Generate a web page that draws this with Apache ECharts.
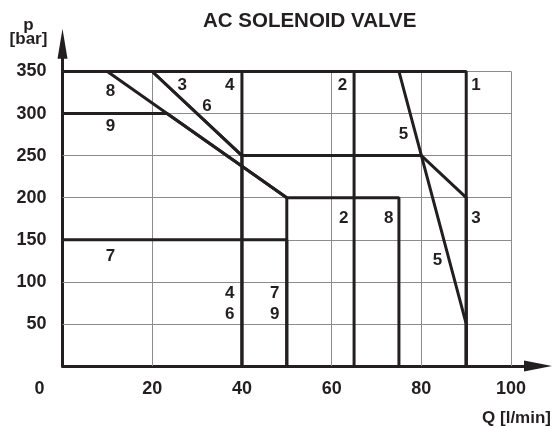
<!DOCTYPE html>
<html>
<head>
<meta charset="utf-8">
<script src="https://cdn.jsdelivr.net/npm/echarts@6/dist/echarts.min.js"></script>
<style>
  html, body { margin: 0; padding: 0; background: #fff; }
  #chart { width: 554px; height: 427px; }
</style>
</head>
<body>
<div id="chart"></div>
<script>
// grid ticks (Q in l/min, p in bar)
var xGrid = [20, 40, 60, 80, 100];
var yGrid = [50, 100, 150, 200, 250, 300, 350];

// operating limits, one polyline per curve number
var curve1 = [[0, 350], [90, 350], [90, 0]];
var curve2 = [[65, 350], [65, 0]];
var curve3 = [[20, 350], [40, 250], [80, 250], [90, 200], [90, 0]];
var curve4 = [[40, 350], [40, 0]];
var curve5 = [[75, 350], [90, 50], [90, 0]];
var curve6 = [[20, 350], [40, 250], [40, 0]];
var curve7 = [[0, 150], [50, 150], [50, 0]];
var curve8 = [[10, 350], [50, 200], [75, 200], [75, 0]];
var curve9 = [[0, 300], [23.3, 300], [50, 200], [50, 0]];

// curve number labels [Q, p, text]
var curveLabels = [
  [10.7, 326, '8'], [26.7, 334, '3'], [37.3, 333, '4'], [32.2, 309, '6'],
  [10.7, 285, '9'], [62.4, 333, '2'], [92.2, 333, '1'], [76, 275, '5'],
  [62.7, 175, '2'], [72.7, 175, '8'], [92.2, 175, '3'], [83.6, 126, '5'],
  [10.7, 130, '7'], [37.3, 86, '4'], [37.3, 61, '6'], [47.3, 86, '7'],
  [47.3, 61, '9']
];

var ink = '#231f20';
var font = 'Liberation Sans, Arial, sans-serif';

// grid segments for the markLine
var gridSegs = [];
xGrid.forEach(function (x) {
  gridSegs.push([{ coord: [x, 0] }, { coord: [x, 350] }]);
});
yGrid.forEach(function (y) {
  gridSegs.push([{ coord: [0, y] }, { coord: [100, y] }]);
});

var curves = [curve1, curve2, curve3, curve4, curve5, curve6, curve7, curve8, curve9];
var series = [{
  type: 'line',
  data: [],
  silent: true,
  markLine: {
    silent: true,
    z: 1,
    symbol: 'none',
    animation: false,
    label: { show: false },
    lineStyle: { color: '#8c8c8c', width: 1, type: 'solid' },
    data: gridSegs
  },
  z: 1
}];
curves.forEach(function (c, i) {
  series.push({
    name: 'curve' + (i + 1),
    type: 'line',
    data: c,
    showSymbol: false,
    symbol: 'none',
    lineStyle: { color: ink, width: 3 },
    z: 3
  });
});
series.push({
  type: 'scatter',
  data: curveLabels,
  symbolSize: 1,
  itemStyle: { color: 'rgba(0,0,0,0)', opacity: 1 },
  label: {
    show: true,
    position: 'inside',
    formatter: function (p) { return p.value[2]; },
    color: ink,
    opacity: 1,
    textBorderWidth: 0,
    fontFamily: font,
    fontSize: 17,
    fontWeight: 'bold'
  },
  z: 4
});

var chart = echarts.init(document.getElementById('chart'));
chart.setOption({
  animation: false,
  title: {
    text: 'AC SOLENOID VALVE',
    left: 198,
    top: 6,
    textStyle: { color: ink, fontFamily: font, fontSize: 20.5, fontWeight: 'bold' }
  },
  // 4.5 px per l/min, 295 px for 350 bar
  grid: { left: 62.5, right: 14.5, top: 43.7, bottom: 60.5 },
  xAxis: {
    type: 'value',
    min: 0,
    max: 106,
    interval: 20,
    name: 'Q [l/min]',
    nameLocation: 'end',
    nameGap: 13,
    nameTextStyle: {
      color: ink, fontFamily: font, fontSize: 17, fontWeight: 'bold',
      align: 'right', verticalAlign: 'top', padding: [44, 0, 0, 0]
    },
    axisLine: {
      lineStyle: { color: ink, width: 3 },
      symbol: ['none', 'triangle'],
      symbolSize: [11, 28]
    },
    axisTick: { show: false },
    splitLine: { show: false },
    axisLabel: {
      showMaxLabel: false,
      margin: 14,
      color: ink,
      fontFamily: font,
      fontSize: 18,
      fontWeight: 'bold',
      formatter: function (v) { return v === 0 ? '{o|0}' : String(v); },
      rich: {
        o: { padding: [0, 46, 0, 0], color: ink, fontFamily: font, fontSize: 18, fontWeight: 'bold' }
      }
    }
  },
  yAxis: {
    type: 'value',
    min: 0,
    max: 383,
    interval: 50,
    name: 'p\n[bar]',
    nameLocation: 'end',
    nameGap: -3,
    nameTextStyle: {
      color: ink, fontFamily: font, fontSize: 17, fontWeight: 'bold',
      align: 'center', lineHeight: 14, padding: [0, 68, 0, 0]
    },
    axisLine: {
      lineStyle: { color: ink, width: 3 },
      symbol: ['none', 'triangle'],
      symbolSize: [10, 30]
    },
    axisTick: { show: false },
    splitLine: { show: false },
    axisLabel: {
      margin: 16,
      color: ink,
      fontFamily: font,
      fontSize: 18,
      fontWeight: 'bold',
      formatter: function (v) { return (v === 0 || v > 350) ? '' : String(v); }
    }
  },
  series: series
});
</script>
</body>
</html>
